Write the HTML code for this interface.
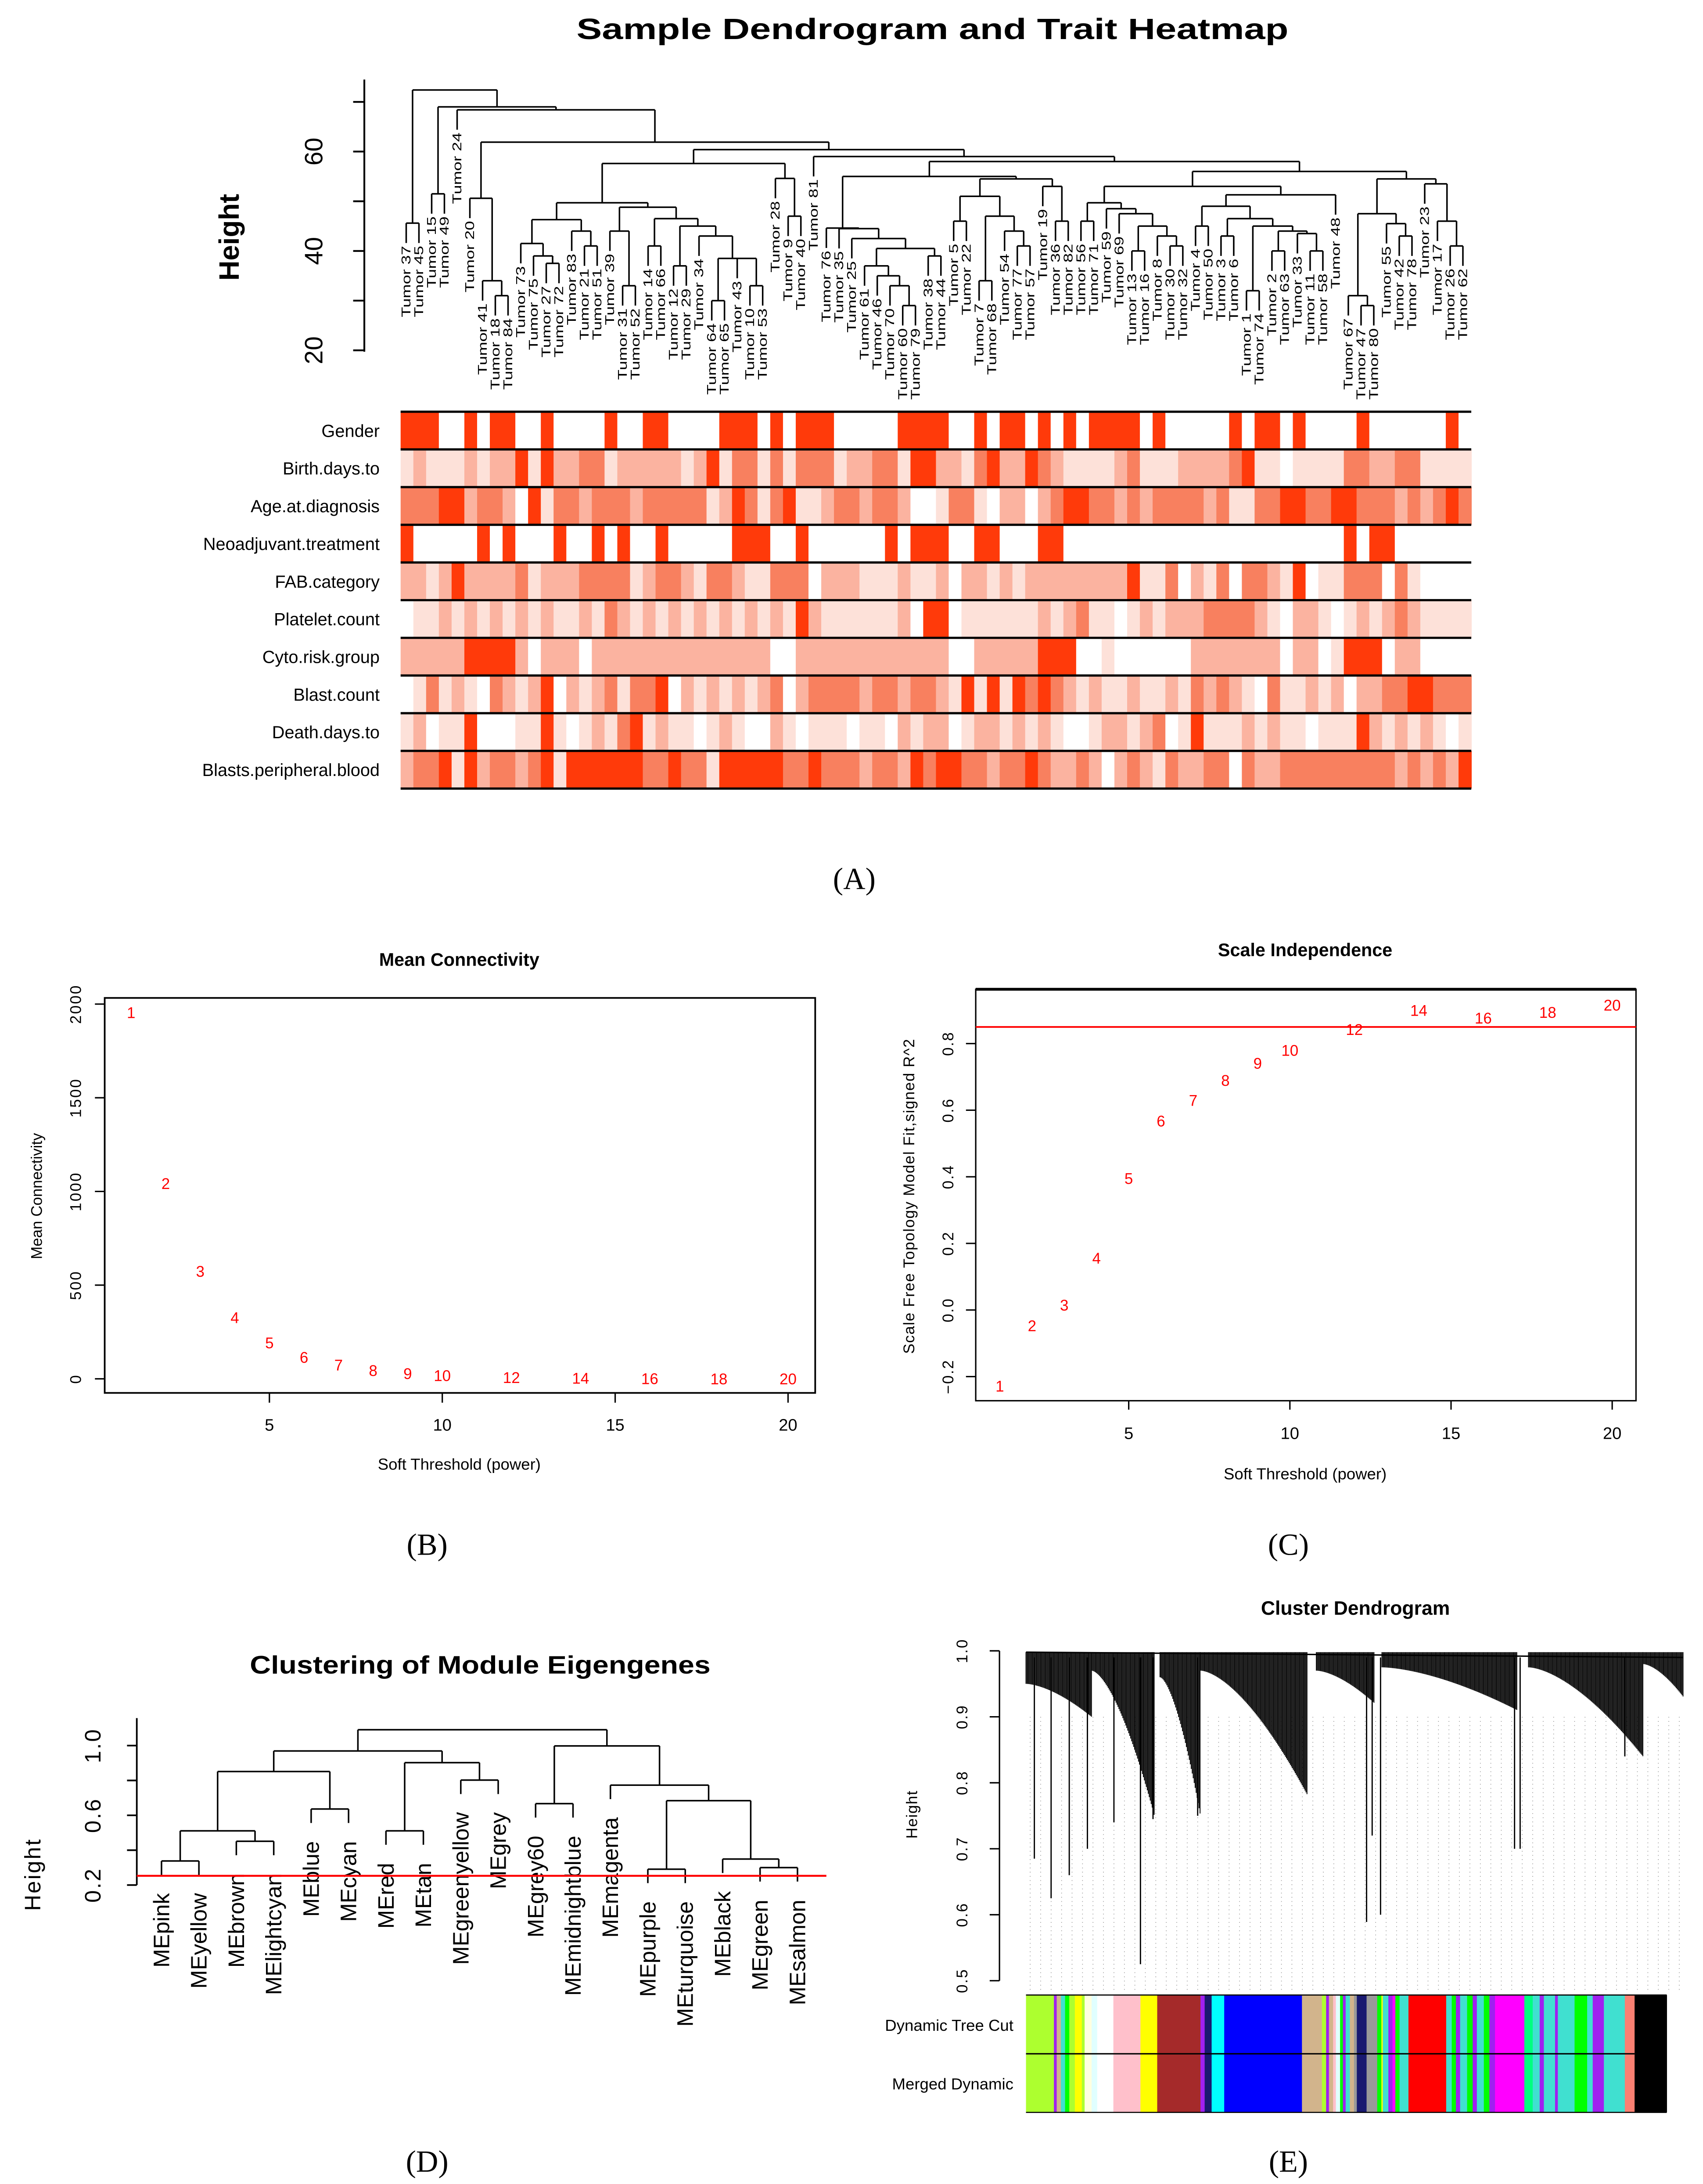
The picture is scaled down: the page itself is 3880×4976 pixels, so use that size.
<!DOCTYPE html>
<html><head><meta charset="utf-8">
<style>
html,body{margin:0;padding:0;background:#fff;}
svg{display:block;}
text{font-family:"Liberation Sans",sans-serif;}
.serif{font-family:"Liberation Serif",serif;}
</style></head>
<body>
<svg id="fig" xmlns="http://www.w3.org/2000/svg" width="3880" height="4976" viewBox="0 0 1220 1564.8" preserveAspectRatio="none">
<rect x="0" y="0" width="1220" height="1564.8" fill="#fff"/>
<g id="pA"></g>
<g id="pB"></g>
<g id="pC"></g>
<g id="pD"></g>
<g id="pE"></g>
</svg>
<script>
// ---------- data ----------
const treeA = [72.4, [45.6,'37','45'], [69, [51.5,'15','49'], [68.4, '24', [61.9,
  [50.6,'20',[34,'41',[31,'18','84']]],
  [60.4,
    [57.6,
      [49.7,
        [46.3, [41.5,'73',[39,'75',[37.5,'27','72']]], [44,'83',[41,'21','51']]],
        [48.8, [44,'39',[33,'31','52']],
          [46.5, [41,'14','66'], [45, [37,'12','29'], [43,'34',[38.5,[30,'64','65'],[38.5,'43',[33,'10','53']]]]]]]],
      [54.6,'28',[47,'9','40']]],
    [59, '81', [58,
      [55,
        [44.6,'76',[44.5,'35',[42.5,'25',[40.5,[37,'61',[35,'46',[33,'70',[29,'60','79']]]],[39,'38','44']]]]],
        [54.5,[51,[46,'5','22'],[47,[34,'7','68'],[44,'54',[41,'77','57']]]],[53,'19',[46,'36','82']]]],
      [56,
        [53,
          [49.7,[46,'56','71'],[48.5,'59',[47.5,'69',[45,[40,'13','16'],[43,'8',[41,'30','32']]]]]],
          [51.3,[49,[45,'4','50'],[46.5,[43,'3','6'],[45,[32,'1','74'],[44,[40,'2','63'],[43.5,'33',[40,'11','58']]]]]],'48']],
        [54.5,
          [47.5,[31,'67',[29,'47','80']],[45.5,'55',[43,'42','78']]],
          [53.5,'23',[46,'17',[41,'26','62']]]]]]]]]]]];

const traitNames = ['Gender','Birth.days.to','Age.at.diagnosis','Neoadjuvant.treatment','FAB.category','Platelet.count','Cyto.risk.group','Blast.count','Death.days.to','Blasts.peripheral.blood'];
const gender = [4,4,4,0,0,4,0,4,4,0,0,4,0,0,0,0,4,0,0,4,4,0,0,0,0,4,4,4,0,4,0,4,4,4,0,0,0,0,0,4,4,4, 4,0,0,4,0,4,4,0,4,0,4,0,4,4,4,4,0,4,0,0,0,0,0,4,0,4,4,0,4,0,0,0,0,4,0,0,0,0,0,0,4,0];
const birth = [1,2,1,1,1,2,1,2,2,4,1,4,2,2,3,3,1,2,2,2,2,2,1,2,4,1,3,3,1,3,1,3,3,3,1,2,2,3,3,1,4,4, 2,2,1,3,4,2,2,4,3,2,1,1,1,1,2,3,1,1,1,2,2,2,2,3,4,1,1,0,1,1,1,1,3,3,2,2,3,3,1,1,1,1];
const age = [3,3,3,4,4,2,3,3,2,0,4,1,3,3,2,3,3,3,2,3,3,3,3,3,1,2,4,3,1,3,4,1,1,2,3,3,2,3,3,2,0,0, 1,3,3,1,0,2,2,0,2,3,4,4,3,3,2,3,2,3,3,3,3,2,3,1,1,3,3,4,4,3,3,4,4,3,3,3,2,3,2,3,4,3];
const neo = [4,0,0,0,0,0,4,0,4,0,0,0,4,0,0,4,0,4,0,0,4,0,0,0,0,0,4,4,4,0,0,4,0,0,0,0,0,0,4,0,4,4, 4,0,0,4,4,0,0,0,4,4,0,0,0,0,0,0,0,0,0,0,0,0,0,0,0,0,0,0,0,0,0,0,4,0,4,4,0,0,0,0,0,0];
const fab = [2,2,1,2,4,2,2,2,2,3,1,2,2,2,3,3,3,3,1,2,3,3,2,1,3,3,2,1,1,3,3,3,0,2,2,2,1,1,1,2,1,1, 2,0,2,2,1,2,1,2,2,2,2,2,2,2,2,4,1,1,3,0,2,1,3,0,3,3,2,1,4,0,1,1,3,3,3,0,3,1,0,0,0,0];
const platelet = [0,1,1,2,1,2,1,2,1,2,1,2,1,1,2,1,3,2,1,2,1,2,1,2,1,2,1,2,1,2,1,4,2,1,1,1,1,1,1,2,0,4, 4,0,1,1,1,1,1,1,2,1,2,3,1,1,0,1,2,1,2,2,2,3,3,3,3,2,1,0,2,2,1,0,1,2,1,2,3,2,1,1,1,1];
const cyto = [2,2,2,2,2,4,4,4,4,2,0,2,2,2,0,2,2,2,2,2,2,2,2,2,2,2,2,2,2,0,0,2,2,2,2,2,2,2,2,2,2,2, 2,0,0,2,2,2,2,2,4,4,4,0,0,1,0,0,0,0,0,0,2,2,2,2,2,2,2,0,2,2,0,1,4,4,4,0,2,2,0,0,0,0];
const blast = [0,1,3,1,2,1,0,3,2,1,2,4,0,2,1,2,3,1,3,3,4,0,2,1,2,1,2,1,2,3,0,2,3,3,3,3,2,3,3,2,3,3, 2,1,4,1,4,1,4,3,4,3,2,1,2,1,1,2,1,1,2,1,3,2,3,2,1,0,3,1,1,2,1,2,0,2,2,3,3,4,4,3,3,3];
const death = [1,2,0,1,1,4,0,0,0,1,1,4,1,0,1,2,1,3,4,1,2,1,1,0,1,2,1,0,0,2,1,0,1,1,1,0,1,1,0,2,1,2, 2,0,1,2,2,1,2,1,2,1,0,0,1,2,2,1,2,3,0,1,4,1,1,1,2,1,2,1,1,0,1,1,1,4,2,1,2,1,2,1,0,1];
const bpb = [2,3,3,4,1,4,2,3,3,2,3,4,1,4,4,4,4,4,4,3,3,4,3,3,1,4,4,4,4,4,3,3,4,3,3,3,2,3,3,2,4,3, 4,4,3,3,2,3,3,4,3,2,2,3,2,0,2,3,2,1,3,2,2,3,3,0,3,2,2,3,3,3,3,3,3,3,3,3,2,3,2,3,2,4];

const powers = [1,2,3,4,5,6,7,8,9,10,12,14,16,18,20];
const meanK = [1955,1043,574,327,193,115,74,45,29,18,8,4,2,1,0];
const sftR2 = [-0.228,-0.047,0.015,0.156,0.395,0.568,0.63,0.69,0.741,0.78,0.843,0.90,0.877,0.894,0.916];
const r2Cut = 0.85;
const bTicksY = [0,500,1000,1500,2000];
const xTicks = [5,10,15,20];
const cTicksY = [-0.2,0,0.2,0.4,0.6,0.8];

const treeD = [1.091,
  [0.969, [0.851, [0.511,[0.338,'MEpink','MEyellow'],[0.451,'MEbrown','MElightcyan']], [0.636,'MEblue','MEcyan']],
          [0.902, [0.511,'MEred','MEtan'], [0.802,'MEgreenyellow','MEgrey']]],
  [0.998, [0.667,'MEgrey60','MEmidnightblue'],
          [0.773,'MEmagenta',[0.684,[0.291,'MEpurple','MEturquoise'],[0.349,'MEblack',[0.30,'MEgreen','MEsalmon']]]]]];
const dCut = 0.253;
const dTicks = [0.2,0.4,0.6,0.8,1.0];
const dTickLabels = ['0.2','','0.6','','1.0'];

const eTicks = [0.5,0.6,0.7,0.8,0.9,1.0];
const modWidths = [20,2,3,3,3,4,5,2,5,4,11.6,19.4,12,31,3,5,9,55.7,14.3,3,2,3,2,3,2,2,3,3,2,7,7.6,3,1,4,3,2,3,6.4,27,4,3,3,5,4,3,5,4,4,21,6,5,3,8,2,12,3,6,4,4,4,15,7,23];
const modColors = ['#adff2f','#a020f0','#d2b48c','#40e0d0','#00ff00','#adff2f','#ffff00','#adff2f','#ffffe0','#e0ffff','#ffffff','#ffc0cb','#ffff00','#a52a2a','#a020f0','#191970','#00ffff','#0000ff','#d2b48c','#adff2f','#a020f0','#d2b48c','#ffc0cb','#e0ffff','#00ff00','#a020f0','#40e0d0','#d2b48c','#999999','#191970','#999999','#00ff00','#ffff00','#40e0d0','#a020f0','#ff00ff','#00ff00','#40e0d0','#ff0000','#40e0d0','#00ff00','#a020f0','#40e0d0','#00ff00','#a020f0','#40e0d0','#00ff00','#a020f0','#ff00ff','#00ff7f','#40e0d0','#a020f0','#40e0d0','#a020f0','#40e0d0','#00ff00','#00ff00','#40e0d0','#a020f0','#a020f0','#40e0d0','#fa8072','#000000'];
const fanX0 = [735,782,831,860,943,990,1095,1177];
const fanX1 = [782,827,860,937,985,1087,1177,1206];
const fanH0 = [0.95,0.97,0.96,0.97,0.97,0.975,0.975,0.98];
const fanH1 = [0.90,0.75,0.75,0.78,0.92,0.91,0.84,0.93];
const longX = [741,753,766,779,798,817,826,858,979,983,989,1085,1089,1164];
const longH = [0.685,0.625,0.66,0.70,0.74,0.525,0.745,0.75,0.589,0.72,0.60,0.70,0.70,0.84];

// ---------- helpers ----------
const NS='http://www.w3.org/2000/svg';
function mk(parent, tag, attrs, txt){
  const e=document.createElementNS(NS,tag);
  for(const k in attrs) e.setAttribute(k,attrs[k]);
  if(txt!==undefined) e.textContent=txt;
  parent.appendChild(e); return e;
}
function line(p,x1,y1,x2,y2,st,w){return mk(p,'line',{x1:x1,y1:y1,x2:x2,y2:y2,stroke:st||'#000','stroke-width':w||1});}

// ---------- Panel A ----------
const pA=document.getElementById('pA');
let t=mk(pA,'text',{x:668,y:28,'text-anchor':'middle','font-size':21,'font-weight':'bold',textLength:510,lengthAdjust:'spacingAndGlyphs'},'Sample Dendrogram and Trait Heatmap');


const yA=h=>251-(h-20)*3.56;
let ax=line(pA,261,57,261,252,'#000',1.3);


[20,30,40,50,60,70].forEach(v=>{
  line(pA,253,yA(v),261,yA(v),'#000',1.3);
  if(v%20===0){
    const tl=mk(pA,'text',{x:0,y:0,transform:`translate(231,${yA(v)}) rotate(-90)`,'text-anchor':'middle','font-size':18},String(v));
    
    
  }
});
t=mk(pA,'text',{x:0,y:0,transform:'translate(171,170) rotate(-90)','text-anchor':'middle','font-size':20,'font-weight':'bold'},'Height');


const leafX0=291, leafStep=(1048-291)/83;
let leafIdx=0;
function drawTreeA(node){
  if(typeof node==='string'){return {x:leafX0+(leafIdx++)*leafStep, leaf:true, name:node};}
  const l=drawTreeA(node[1]), r=drawTreeA(node[2]); const h=node[0];
  const y=yA(h);
  line(pA,l.x,y,r.x,y,'#000',1.1);
  [l,r].forEach(c=>{
    const yb=c.leaf?yA(h-4):yA(c.h);
    line(pA,c.x,y,c.x,yb,'#000',1.1);
    if(c.leaf){
      const s='Tumor '+c.name;
      const lab=mk(pA,'text',{x:0,y:0,transform:`translate(${c.x+3},${yb+2}) rotate(-90)`,'text-anchor':'end','font-size':9,textLength:s.length*6.4,lengthAdjust:'spacingAndGlyphs'},s);
      
      
    }
  });
  return {x:(l.x+r.x)/2,h:h,leaf:false};
}
drawTreeA(treeA);
const traitRows=[gender,birth,age,neo,fab,platelet,cyto,blast,death,bpb];
const heatPal=['#ffffff','#fde1d9','#fbb3a0','#f8805f','#ff3a0a'];
const rowTop=295, rowH=27, hmX0=287, hmX1=1054, cellW=(hmX1-hmX0)/84;
traitRows.forEach((row,ri)=>{
  const y=rowTop+ri*rowH;
  row.forEach((v,ci)=>{
    const c=mk(pA,'rect',{x:hmX0+ci*cellW,y:y,width:cellW+0.3,height:rowH,fill:heatPal[v]});
    
    
  });
  const lab=mk(pA,'text',{x:272,y:y+rowH/2+4.5,'text-anchor':'end','font-size':12.5},traitNames[ri]);
  
  
});
for(let i=0;i<=10;i++){line(pA,hmX0,rowTop+i*rowH,hmX1,rowTop+i*rowH,'#000',1.6);}
t=mk(pA,'text',{x:612,y:637,'text-anchor':'middle','font-size':22,'class':'serif'},'(A)');



// ---------- Panel B ----------
const pB=document.getElementById('pB');
const xB=p=>193+(p-5)*24.77, yB=v=>987.9-v*0.13425;
let r=mk(pB,'rect',{x:75,y:715,width:509,height:283,fill:'none',stroke:'#000','stroke-width':1.2});


t=mk(pB,'text',{x:329,y:692,'text-anchor':'middle','font-size':13,'font-weight':'bold'},'Mean Connectivity');


bTicksY.forEach(v=>{
  line(pB,68,yB(v),75,yB(v));
  const tl=mk(pB,'text',{x:0,y:0,transform:`translate(58,${yB(v)}) rotate(-90)`,'text-anchor':'middle','font-size':11,'letter-spacing':'1'},String(v));
  
  
});
xTicks.forEach(v=>{
  line(pB,xB(v),998,xB(v),1005);
  const tl=mk(pB,'text',{x:xB(v),y:1025,'text-anchor':'middle','font-size':12},String(v));
  
  
});
t=mk(pB,'text',{x:329,y:1053,'text-anchor':'middle','font-size':11.5},'Soft Threshold (power)');


t=mk(pB,'text',{x:0,y:0,transform:'translate(30,857) rotate(-90)','text-anchor':'middle','font-size':11},'Mean Connectivity');


powers.forEach((p,i)=>{
  const m=mk(pB,'text',{x:xB(p),y:yB(meanK[i])+4,'text-anchor':'middle','font-size':11,fill:'#ff0000'},String(p));
  
  
});
t=mk(pB,'text',{x:306,y:1114,'text-anchor':'middle','font-size':22,'class':'serif'},'(B)');



// ---------- Panel C ----------
const pC=document.getElementById('pC');
const xC=p=>808.6+(p-5)*23.09, yC=v=>938.6-v*238.6;
r=mk(pC,'rect',{x:699,y:708.8,width:473,height:294.8,fill:'none',stroke:'#000','stroke-width':1});


line(pC,699,708.8,1172,708.8,'#000',2);
t=mk(pC,'text',{x:935,y:685,'text-anchor':'middle','font-size':13,'font-weight':'bold'},'Scale Independence');


cTicksY.forEach(v=>{
  line(pC,692,yC(v),699,yC(v));
  const tl=mk(pC,'text',{x:0,y:0,transform:`translate(683,${yC(v)}) rotate(-90)`,'text-anchor':'middle','font-size':11,'letter-spacing':'0.8'},v===0?'0.0':(v<0?'\u22120.2':v.toFixed(1)));
  
  
});
xTicks.forEach(v=>{
  line(pC,xC(v),1003.6,xC(v),1010);
  const tl=mk(pC,'text',{x:xC(v),y:1031,'text-anchor':'middle','font-size':12},String(v));
  
  
});
t=mk(pC,'text',{x:935,y:1060,'text-anchor':'middle','font-size':11.5},'Soft Threshold (power)');


t=mk(pC,'text',{x:0,y:0,transform:'translate(655,857) rotate(-90)','text-anchor':'middle','font-size':11,'letter-spacing':'0.5'},'Scale Free Topology Model Fit,signed R^2');


let cut=line(pC,699,yC(r2Cut),1172,yC(r2Cut),'#ff0000',1.2);


powers.forEach((p,i)=>{
  const m=mk(pC,'text',{x:xC(p),y:yC(sftR2[i])+4,'text-anchor':'middle','font-size':11,fill:'#ff0000'},String(p));
  
  
});
t=mk(pC,'text',{x:923,y:1114,'text-anchor':'middle','font-size':22,'class':'serif'},'(C)');



// ---------- Panel D ----------
const pD=document.getElementById('pD');
const yD=h=>1350.6-(h-0.2)*124.9;
t=mk(pD,'text',{x:344,y:1199,'text-anchor':'middle','font-size':18,'font-weight':'bold',textLength:330,lengthAdjust:'spacingAndGlyphs'},'Clustering of Module Eigengenes');


line(pD,98,1231,98,1350.6,'#000',1.2);
dTicks.forEach((v,i)=>{
  line(pD,91,yD(v),98,yD(v),'#000',1.2);
  if(dTickLabels[i]){
    const tl=mk(pD,'text',{x:0,y:0,transform:`translate(72,${yD(v)}) rotate(-90)`,'text-anchor':'middle','font-size':16,'letter-spacing':'1'},dTickLabels[i]);
    
    
  }
});
t=mk(pD,'text',{x:0,y:0,transform:'translate(29,1343) rotate(-90)','text-anchor':'middle','font-size':16,'letter-spacing':'1'},'Height');


let dIdx=0; const dX0=115.7, dStep=26.8;
function drawTreeD(node){
  if(typeof node==='string'){return {x:dX0+(dIdx++)*dStep,leaf:true,name:node};}
  const l=drawTreeD(node[1]), r=drawTreeD(node[2]); const h=node[0]; const y=yD(h);
  line(pD,l.x,y,r.x,y,'#000',1.1);
  [l,r].forEach(c=>{
    const yb=c.leaf?y+10:yD(c.h);
    line(pD,c.x,y,c.x,yb,'#000',1.1);
    if(c.leaf){
      const lab=mk(pD,'text',{x:0,y:0,transform:`translate(${c.x+5.5},${yb+13}) rotate(-90)`,'text-anchor':'end','font-size':16},c.name);
      
      
    }
  });
  return {x:(l.x+r.x)/2,h:h,leaf:false};
}
drawTreeD(treeD);
cut=line(pD,98,yD(dCut),592,yD(dCut),'#ff0000',1.4);


t=mk(pD,'text',{x:306,y:1556,'text-anchor':'middle','font-size':22,'class':'serif'},'(D)');



// ---------- Panel E ----------
const pE=document.getElementById('pE');
const yE=h=>1182.8+(1-h)*472.7;
t=mk(pE,'text',{x:971,y:1157,'text-anchor':'middle','font-size':14,'font-weight':'bold'},'Cluster Dendrogram');


line(pE,716,yE(1.0),716,yE(0.5),'#000',1);
eTicks.forEach(v=>{
  line(pE,709,yE(v),716,yE(v));
  const tl=mk(pE,'text',{x:0,y:0,transform:`translate(693,${yE(v)}) rotate(-90)`,'text-anchor':'middle','font-size':11,'letter-spacing':'0.8'},v.toFixed(1));
  
  
});
t=mk(pE,'text',{x:0,y:0,transform:'translate(657,1300) rotate(-90)','text-anchor':'middle','font-size':11,'letter-spacing':'0.5'},'Height');


for(let x=738;x<1206;x+=7.5){
  const g=line(pE,x,yE(0.9),x,1428,'#9a9a9a',0.5);
  g.setAttribute('stroke-dasharray','0.6,2.4');
}
line(pE,735,yE(0.998),1206,yE(0.99),'#000',1);
fanX0.forEach((x0,i)=>{
  const x1=fanX1[i];
  for(let x=x0;x<=x1;x+=0.7){
    const tt=(x-x0)/(x1-x0);
    const hb=fanH0[i]+(fanH1[i]-fanH0[i])*Math.pow(tt,1.6);
    line(pE,x,yE(0.998),x,yE(hb),'#000',0.62);
  }
});
longX.forEach((x,i)=>{
  const b=line(pE,x,yE(0.99),x,yE(longH[i]),'#000',0.9);
  
  
});
const barX0=735, barTop=1429.4, barMid=1471.5, barBot=1513.5;
let cx=barX0;
modWidths.forEach((w,i)=>{
  const s=mk(pE,'rect',{x:cx,y:barTop,width:w+0.2,height:barBot-barTop,fill:modColors[i]});
  
  
  cx+=w;
});
line(pE,barX0,barTop,cx,barTop,'#000',0.8);
line(pE,barX0,barMid,cx-23,barMid,'#000',1);
line(pE,barX0,barBot,cx,barBot,'#000',0.8);
t=mk(pE,'text',{x:726,y:1455,'text-anchor':'end','font-size':11.5},'Dynamic Tree Cut');


t=mk(pE,'text',{x:726,y:1497,'text-anchor':'end','font-size':11.5},'Merged Dynamic');


t=mk(pE,'text',{x:923,y:1556,'text-anchor':'middle','font-size':22,'class':'serif'},'(E)');


</script>
</body></html>
